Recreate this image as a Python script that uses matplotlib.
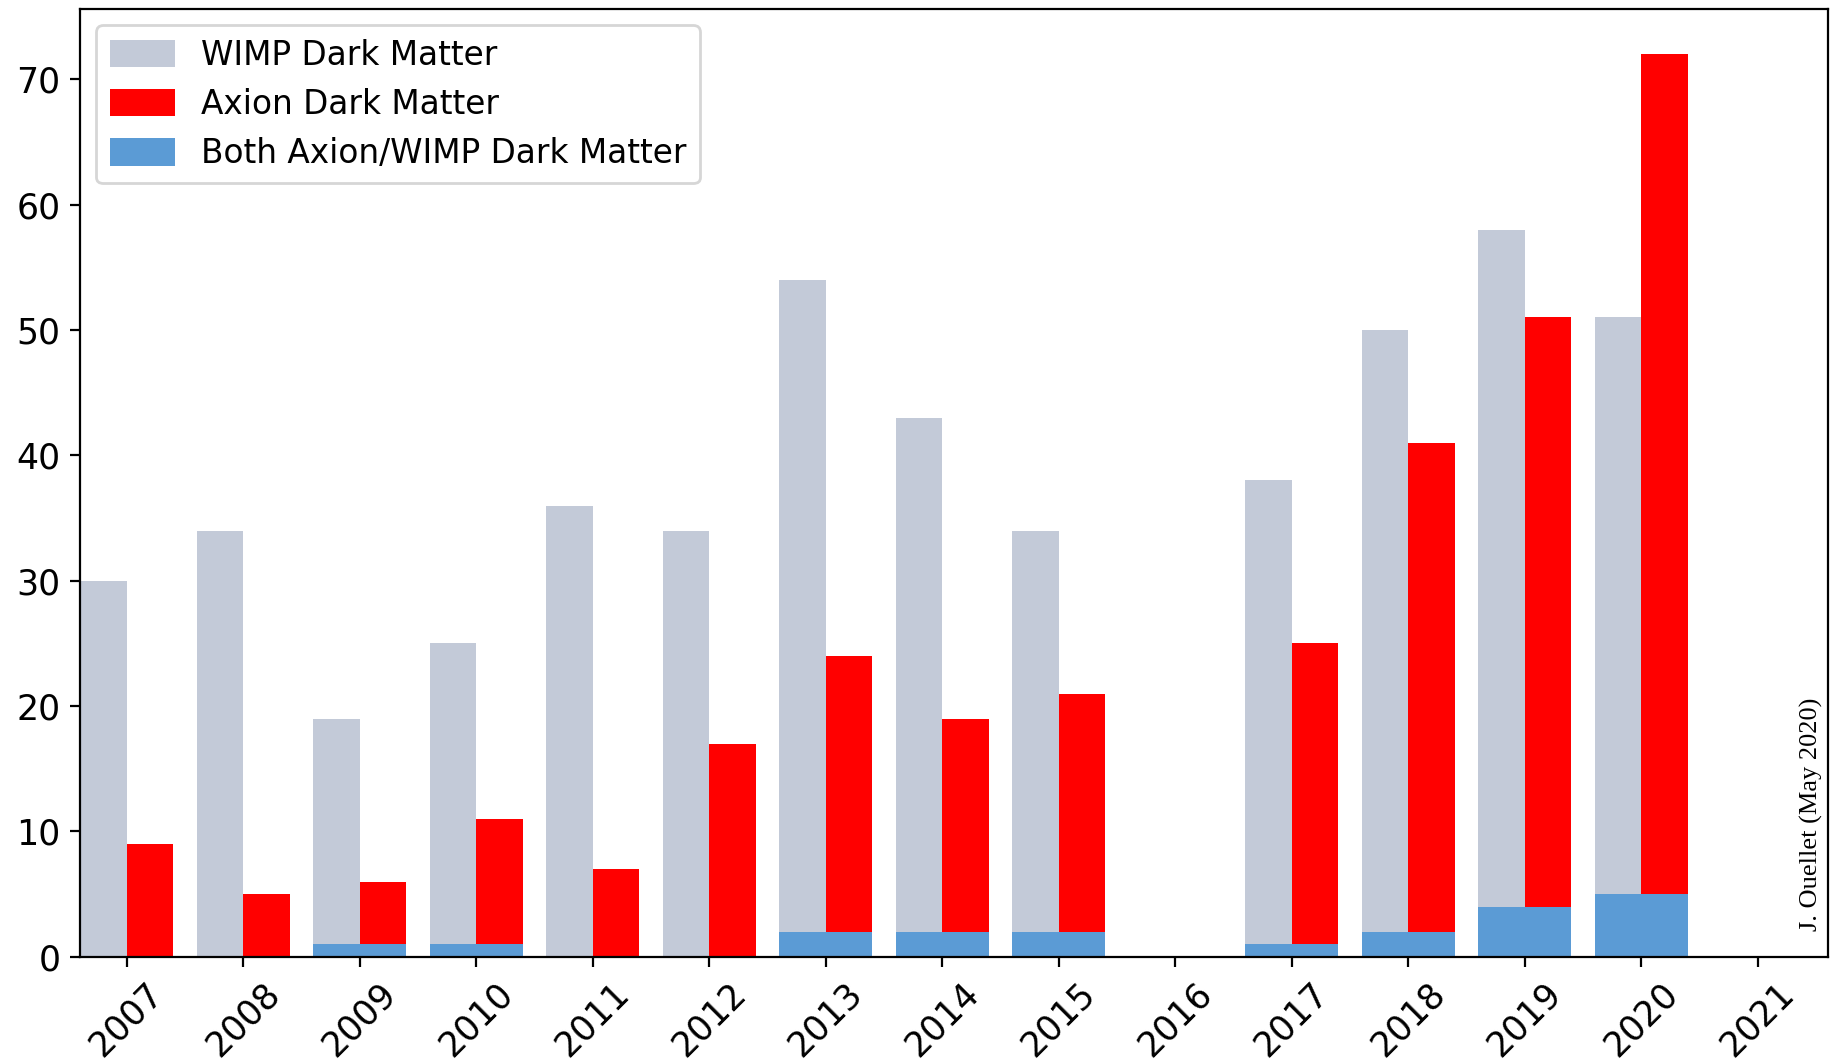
import matplotlib.pyplot as plt
import numpy as np

# Publications per year
years = [2007, 2008, 2009, 2010, 2011, 2012, 2013, 2014, 2015, 2016,
         2017, 2018, 2019, 2020, 2021]
wimp = [30, 34, 19, 25, 36, 34, 54, 43, 34, 0, 38, 50, 58, 51, 0]
axion = [9, 5, 6, 11, 7, 17, 24, 19, 21, 0, 25, 41, 51, 72, 0]
both = [0, 0, 1, 1, 0, 0, 2, 2, 2, 0, 1, 2, 4, 5, 0]

plt.rcParams['font.family'] = ['DejaVu Sans']

x = np.array(years)
w = 0.4

fig = plt.figure(figsize=(9.175, 5.31), dpi=200)
ax = fig.add_axes([0.0436, 0.099, 0.9524, 0.8925])

ax.bar(x - w, wimp, width=w, align='edge', color='#c3cad8', label='WIMP Dark Matter')
ax.bar(x, np.array(axion) - np.array(both), bottom=both, width=w, align='edge',
       color='#ff0000', label='Axion Dark Matter')
ax.bar(x - w, both, width=2 * w, align='edge', color='#5b9bd5',
       label='Both Axion/WIMP Dark Matter')

ax.set_xticks(years)
ax.set_xticklabels([str(y) for y in years], rotation=45, fontsize=12.5)
ax.tick_params(axis='y', labelsize=12.5)
ax.set_xlim(2006.6, 2021.6)
ax.set_ylim(0, 75.6)

ax.legend(loc='upper left', fontsize=11.8, handleheight=0.9)

ax.text(2021.46, 2.1, 'J. Ouellet (May 2020)', rotation=90, fontsize=9.5,
        family='Liberation Serif', ha='center', va='bottom')

fig.savefig('out.png', dpi=200)
